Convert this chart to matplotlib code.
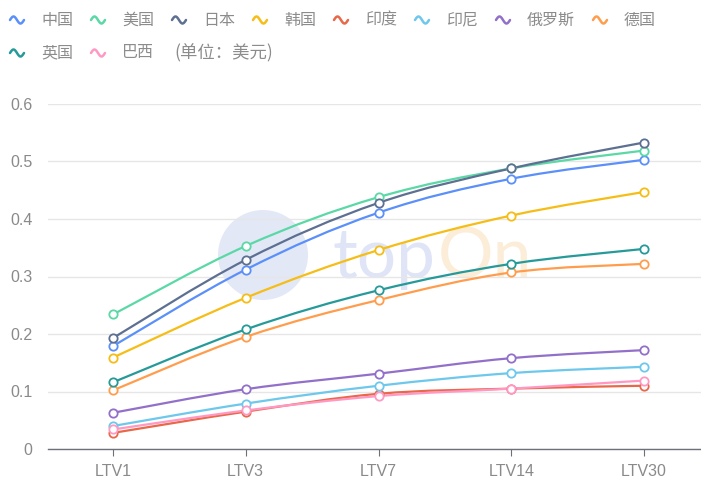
import matplotlib
matplotlib.use("Agg")
import matplotlib.pyplot as plt
import numpy as np
from matplotlib.path import Path
from matplotlib.patches import PathPatch, Circle
from matplotlib.lines import Line2D
from matplotlib.transforms import IdentityTransform

plt.rcParams['font.family'] = ['Noto Sans CJK SC', 'DejaVu Sans']

# ---- data ----
stages = ["LTV1", "LTV3", "LTV7", "LTV14", "LTV30"]
countries = ["中国", "美国", "日本", "韩国", "印度", "印尼", "俄罗斯", "德国", "英国", "巴西"]
china     = [0.179, 0.312, 0.411, 0.470, 0.503]
usa       = [0.234, 0.353, 0.438, 0.488, 0.519]
japan     = [0.193, 0.329, 0.428, 0.488, 0.533]
korea     = [0.159, 0.263, 0.346, 0.406, 0.447]
india     = [0.028, 0.065, 0.096, 0.105, 0.110]
indonesia = [0.040, 0.079, 0.110, 0.132, 0.143]
russia    = [0.063, 0.104, 0.131, 0.158, 0.172]
germany   = [0.102, 0.195, 0.259, 0.307, 0.322]
uk        = [0.116, 0.208, 0.276, 0.322, 0.348]
brazil    = [0.034, 0.067, 0.092, 0.105, 0.119]
series = [china, usa, japan, korea, india, indonesia, russia, germany, uk, brazil]
unit_note = "(单位：美元)"
yticks = [0, 0.1, 0.2, 0.3, 0.4, 0.5, 0.6]
ytick_labels = ["0", "0.1", "0.2", "0.3", "0.4", "0.5", "0.6"]

colors = ["#5B8FF9", "#5AD8A6", "#5D7092", "#F6BD16", "#E8684A",
          "#6DC8EC", "#9270CA", "#FF9D4D", "#269A99", "#FF99C3"]

W, H = 701, 479
fig = plt.figure(figsize=(W / 100, H / 100), dpi=100)
ax = fig.add_axes([48 / W, 1 - 449 / H, 1 - 48 / W, (449 - 104) / H])

x = np.arange(len(stages))


def smooth_path(xs, ys, k=0.35):
    """Cubic Bezier path through the points (echarts-like smoothing)."""
    pts = np.column_stack([xs, ys]).astype(float)
    n = len(pts)
    verts = [pts[0]]
    codes = [Path.MOVETO]
    for i in range(n - 1):
        p0 = pts[i - 1] if i > 0 else pts[i]
        p1, p2 = pts[i], pts[i + 1]
        p3 = pts[i + 2] if i + 2 < n else pts[i + 1]
        c1 = p1 + (p2 - p0) * k / 2
        c2 = p2 - (p3 - p1) * k / 2
        verts += [c1, c2, p2]
        codes += [Path.CURVE4] * 3
    return Path(verts, codes)


# faint "topOn" watermark behind the plot (pixel coordinates)
fig.add_artist(Circle((263, H - 255), 45, transform=IdentityTransform(),
                      color="#E3E8F7", lw=0, zorder=-2))
fig.text(333 / W, 1 - 278 / H, "top", fontsize=50, color="#DFE5F6",
         ha="left", va="baseline", family="Lato", zorder=-1)
fig.text(438 / W, 1 - 278 / H, "On", fontsize=50, color="#FCEDD8",
         ha="left", va="baseline", family="Lato", zorder=-1)

for vals, col in zip(series, colors):
    ax.add_patch(PathPatch(smooth_path(x, vals), fill=False, edgecolor=col,
                           lw=1.6, zorder=3, capstyle="round", joinstyle="round"))
for vals, col in zip(series, colors):
    ax.plot(x, vals, ls="none", marker="o", ms=6, mfc="white", mec=col,
            mew=1.3, zorder=4)

ax.set_xlim(-(113 - 48) / 132.75, 4 + (701 - 644) / 132.75)
ax.set_ylim(0, 0.6)
ax.set_yticks(yticks)
ax.set_yticklabels(ytick_labels)
ax.set_xticks(x)
ax.set_xticklabels(stages)
ax.grid(axis="y", color="#E6E6E6", lw=1)
ax.set_axisbelow(True)
ax.patch.set_alpha(0)
for s in ["top", "right", "left"]:
    ax.spines[s].set_visible(False)
ax.spines["bottom"].set_color("#6E7079")
ax.spines["bottom"].set_linewidth(1)
ax.tick_params(axis="y", length=0, pad=11, labelsize=11.5, labelcolor="#8A8A8A")
ax.tick_params(axis="x", length=5, color="#6E7079", pad=6, labelsize=11.5,
               labelcolor="#8A8A8A")
for lab in ax.get_xticklabels() + ax.get_yticklabels():
    lab.set_family(["Liberation Sans", "DejaVu Sans"])

# ---- legend with wave symbols ----
fig.canvas.draw()
renderer = fig.canvas.get_renderer()
t = np.linspace(0, 2 * np.pi, 40)


def wave(x0, yc, col):
    xs = x0 + t / (2 * np.pi) * 14
    ys = yc - np.sin(t) * 3.5
    fig.add_artist(Line2D(xs / W, 1 - ys / H, color=col, lw=1.8,
                          transform=fig.transFigure, solid_capstyle="round"))


rows = [list(range(8)), [8, 9]]
row_y = [20, 53]
for r, idxs in enumerate(rows):
    xpos = 10
    yc = row_y[r]
    for i in idxs:
        wave(xpos, yc, colors[i])
        txt = fig.text((xpos + 31) / W, 1 - yc / H, countries[i], fontsize=11.5,
                       color="#8C8C8C", ha="left", va="center")
        bb = txt.get_window_extent(renderer)
        xpos = bb.x1 + 18
    if r == 1:
        fig.text((xpos + 2) / W, 1 - yc / H, unit_note, fontsize=12.5,
                 color="#8C8C8C", ha="left", va="center")

fig.savefig("out.png", dpi=100)
